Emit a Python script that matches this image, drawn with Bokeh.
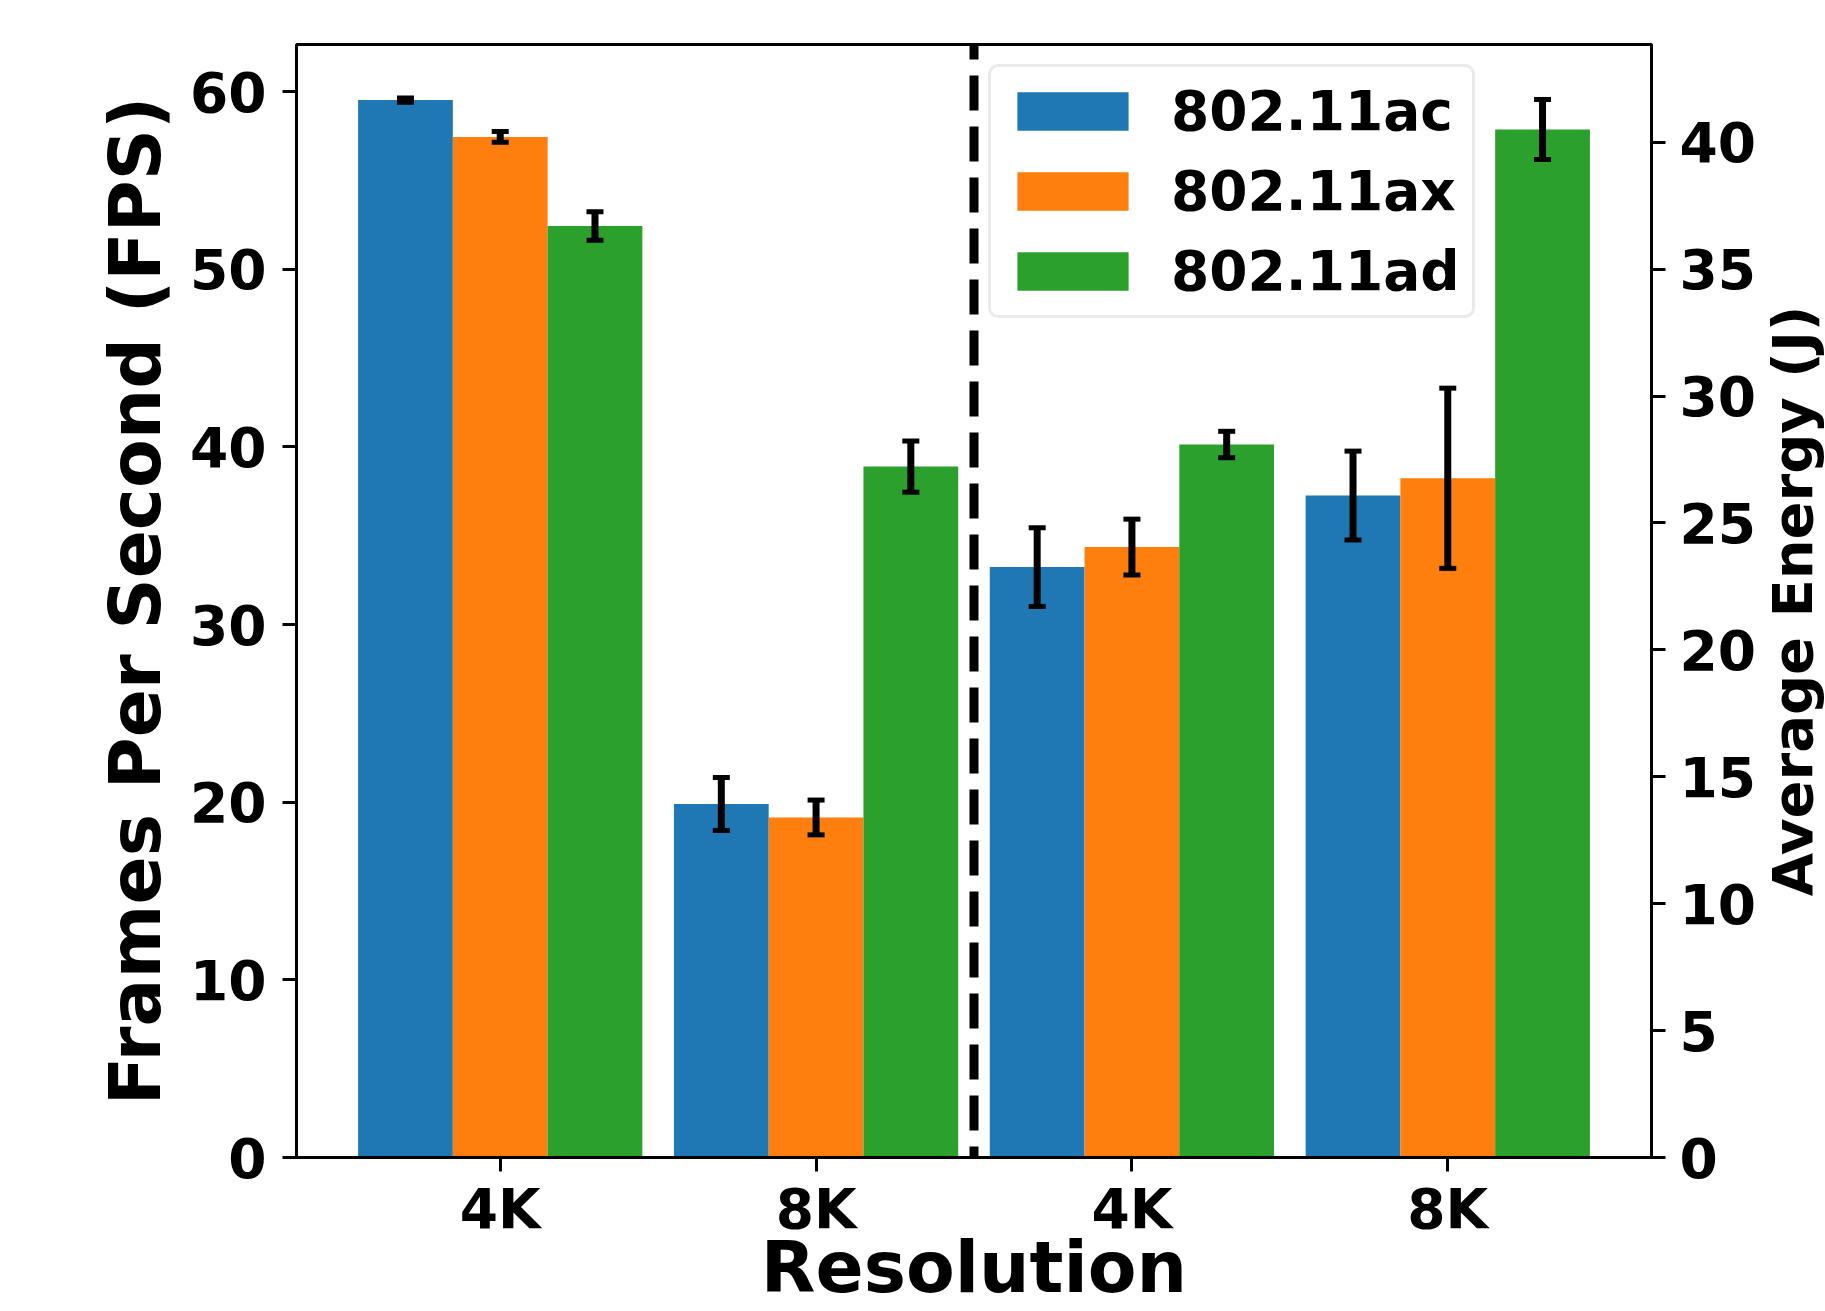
import math
from bokeh.plotting import figure
from bokeh.layouts import row
from bokeh.models import (ColumnDataSource, Range1d, LinearAxis, FixedTicker, Whisker,
                          TeeHead, Span, Legend, LegendItem, Label)
from bokeh.embed import file_html
from bokeh.resources import INLINE

# ---------------- data ----------------
resolutions = ["4K", "8K"]
standards = ["802.11ac", "802.11ax", "802.11ad"]
colors = ["#1f77b4", "#ff7f0e", "#2ca02c"]

# Frames per second (left axis, first two groups)
fps_ac = [59.52, 19.90]
fps_ax = [57.45, 19.14]
fps_ad = [52.43, 38.89]
fps_err_ac = [0.12, 1.49]
fps_err_ax = [0.30, 0.98]
fps_err_ad = [0.80, 1.44]

# Average energy in J (right axis, last two groups)
energy_ac = [23.26, 26.08]
energy_ax = [24.05, 26.76]
energy_ad = [28.09, 40.50]
energy_err_ac = [1.55, 1.75]
energy_err_ax = [1.10, 3.55]
energy_err_ad = [0.52, 1.18]

x_tick_labels = resolutions + resolutions
fps_ticks = [0, 10, 20, 30, 40, 50, 60]
energy_ticks = [0, 5, 10, 15, 20, 25, 30, 35, 40]

fps_series = [(fps_ac, fps_err_ac), (fps_ax, fps_err_ax), (fps_ad, fps_err_ad)]
energy_series = [(energy_ac, energy_err_ac), (energy_ax, energy_err_ax), (energy_ad, energy_err_ad)]

BAR_W = 0.3
offsets = [-BAR_W, 0.0, BAR_W]
FONT = "DejaVu Sans"

X_MIN, X_MAX = -0.645, 3.645
FPS_MAX = 62.65
ENERGY_MAX = 43.85

TOTAL_W, TOTAL_H = 1825, 1311
SIDE_W = 66
MAIN_W = TOTAL_W - SIDE_W
BORDER_TOP, BORDER_BOTTOM = 44, 154

p = figure(width=MAIN_W, height=TOTAL_H,
           x_range=Range1d(X_MIN, X_MAX), y_range=Range1d(0, FPS_MAX),
           output_backend="svg", toolbar_location=None,
           min_border_left=296, min_border_right=MAIN_W - 1654,
           min_border_top=BORDER_TOP, min_border_bottom=BORDER_BOTTOM)
p.extra_y_ranges = {"energy": Range1d(0, ENERGY_MAX)}
p.grid.visible = False
p.outline_line_color = "black"
p.outline_line_width = 3
p.background_fill_color = "white"
p.border_fill_color = "white"


def style_axis(ax, standoff):
    ax.axis_line_width = 3
    ax.axis_line_color = "black"
    ax.major_tick_out = 14
    ax.major_tick_in = 0
    ax.major_tick_line_width = 3
    ax.major_tick_line_color = "black"
    ax.minor_tick_out = 0
    ax.minor_tick_in = 0
    ax.major_label_text_font = FONT
    ax.major_label_text_font_style = "bold"
    ax.major_label_text_font_size = "55px"
    ax.major_label_text_color = "black"
    ax.major_label_standoff = standoff
    ax.axis_label_text_font = FONT
    ax.axis_label_text_font_style = "bold"
    ax.axis_label_text_color = "black"


xa = p.xaxis[0]
style_axis(xa, 5)
xa.ticker = FixedTicker(ticks=list(range(len(x_tick_labels))))
xa.major_label_overrides = {i: lab for i, lab in enumerate(x_tick_labels)}
xa.axis_label = "Resolution"
xa.axis_label_text_font_size = "71px"
xa.axis_label_standoff = -18

ya = p.yaxis[0]
style_axis(ya, 16)
ya.ticker = FixedTicker(ticks=fps_ticks)
ya.axis_label = "Frames Per Second (FPS)"
ya.axis_label_text_font_size = "71px"
ya.axis_label_standoff = 10

ra = LinearAxis(y_range_name="energy")
style_axis(ra, 14)
ra.ticker = FixedTicker(ticks=energy_ticks)
p.add_layout(ra, "right")

renderers = []
for i, name in enumerate(standards):
    vals, errs = fps_series[i]
    xs = [g + offsets[i] for g in range(len(resolutions))]
    src = ColumnDataSource(dict(x=xs, top=vals,
                                upper=[v + e for v, e in zip(vals, errs)],
                                lower=[v - e for v, e in zip(vals, errs)]))
    r = p.vbar(x="x", top="top", bottom=0, width=BAR_W, source=src,
               fill_color=colors[i], line_color=None)
    renderers.append(r)
    p.add_layout(Whisker(source=src, base="x", upper="upper", lower="lower",
                         line_color="black", line_width=7, level="overlay",
                         upper_head=TeeHead(size=17, line_width=5, line_color="black"),
                         lower_head=TeeHead(size=17, line_width=5, line_color="black")))

    vals, errs = energy_series[i]
    xs = [len(resolutions) + g + offsets[i] for g in range(len(resolutions))]
    src2 = ColumnDataSource(dict(x=xs, top=vals,
                                 upper=[v + e for v, e in zip(vals, errs)],
                                 lower=[v - e for v, e in zip(vals, errs)]))
    p.vbar(x="x", top="top", bottom=0, width=BAR_W, source=src2,
           fill_color=colors[i], line_color=None, y_range_name="energy")
    p.add_layout(Whisker(source=src2, base="x", upper="upper", lower="lower",
                         y_range_name="energy",
                         line_color="black", line_width=7, level="overlay",
                         upper_head=TeeHead(size=17, line_width=5, line_color="black"),
                         lower_head=TeeHead(size=17, line_width=5, line_color="black")))

# separator between FPS and energy halves
p.add_layout(Span(location=len(resolutions) - 0.5, dimension="height",
                  line_color="black", line_width=9, line_dash="35 16",
                  line_dash_offset=20))

legend = Legend(items=[LegendItem(label=s, renderers=[r]) for s, r in zip(standards, renderers)],
                location=(692, 839), orientation="vertical",
                label_text_font=FONT, label_text_font_style="bold",
                label_text_font_size="55px", label_text_color="black",
                glyph_width=139, glyph_height=48, label_height=48,
                label_standoff=29, spacing=16, padding=12, margin=0,
                border_line_color="#d6d6d6", border_line_width=3,
                background_fill_color="white", background_fill_alpha=0.8)
try:
    legend.border_radius = 10
except Exception:
    pass
p.add_layout(legend)

# narrow companion panel carrying the right-hand axis title (reads bottom-to-top)
side = figure(width=SIDE_W, height=TOTAL_H, x_range=Range1d(0, 1), y_range=Range1d(0, 1),
              output_backend="svg", toolbar_location=None,
              x_axis_location=None, y_axis_location=None,
              min_border_left=0, min_border_right=0,
              min_border_top=BORDER_TOP, min_border_bottom=BORDER_BOTTOM)
side.grid.visible = False
side.outline_line_color = None
side.background_fill_color = "white"
side.border_fill_color = "white"
side.add_layout(Label(x=0.5, y=0.5, text="Average Energy (J)", angle=math.pi / 2,
                      text_align="center", text_baseline="middle",
                      text_font=FONT, text_font_style="bold", text_font_size="56px",
                      text_color="black"))

layout = row(p, side)
open("out.html", "w").write(file_html(layout, INLINE))
